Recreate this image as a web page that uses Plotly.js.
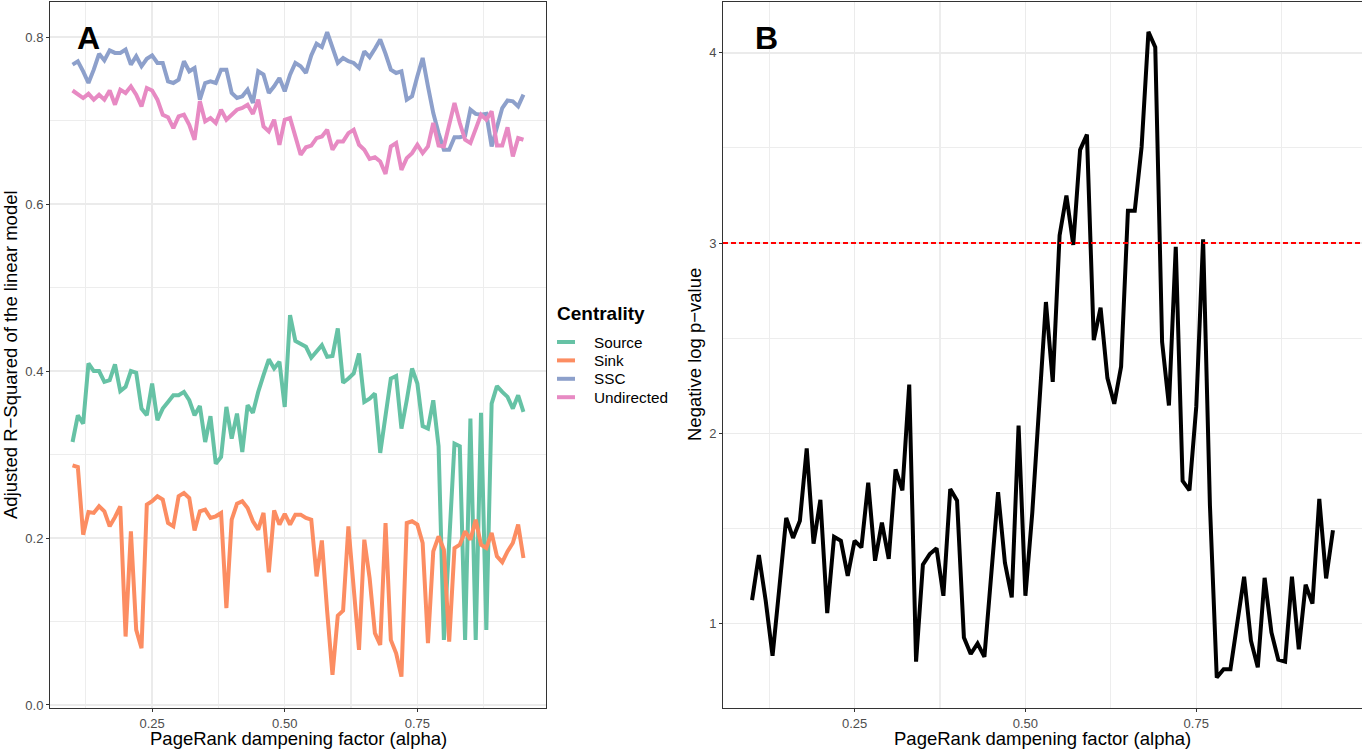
<!DOCTYPE html>
<html>
<head>
<meta charset="utf-8">
<script src="https://cdn.plot.ly/plotly-3.0.1.min.js"></script>
<style>
html,body{margin:0;padding:0;background:#fff;}
#chart{width:1362px;height:751px;}
</style>
</head>
<body>
<div id="chart"></div>
<script>
// PageRank dampening factor values (x)
const alpha = [0.10,0.11,0.12,0.13,0.14,0.15,0.16,0.17,0.18,0.19,
  0.20,0.21,0.22,0.23,0.24,0.25,0.26,0.27,0.28,0.29,
  0.30,0.31,0.32,0.33,0.34,0.35,0.36,0.37,0.38,0.39,
  0.40,0.41,0.42,0.43,0.44,0.45,0.46,0.47,0.48,0.49,
  0.50,0.51,0.52,0.53,0.54,0.55,0.56,0.57,0.58,0.59,
  0.60,0.61,0.62,0.63,0.64,0.65,0.66,0.67,0.68,0.69,
  0.70,0.71,0.72,0.73,0.74,0.75,0.76,0.77,0.78,0.79,
  0.80,0.81,0.82,0.83,0.84,0.85,0.86,0.87,0.88,0.89,
  0.90,0.91,0.92,0.93,0.94,0.95];

// Panel A: adjusted R-squared per centrality
const source = [0.315,0.347,0.337,0.409,0.400,0.400,0.387,0.389,0.408,0.376,
  0.381,0.400,0.398,0.355,0.347,0.385,0.341,0.355,0.363,0.371,
  0.371,0.375,0.365,0.347,0.358,0.315,0.346,0.289,0.297,0.357,
  0.319,0.349,0.303,0.359,0.350,0.375,0.395,0.414,0.403,0.411,
  0.357,0.467,0.436,0.433,0.429,0.416,0.423,0.431,0.417,0.418,
  0.451,0.386,0.391,0.397,0.421,0.363,0.367,0.373,0.302,0.347,
  0.391,0.394,0.331,0.365,0.403,0.385,0.334,0.331,0.365,0.310,
  0.078,0.195,0.313,0.310,0.078,0.343,0.078,0.350,0.090,0.361,
  0.382,0.375,0.369,0.355,0.371,0.351];

const sink = [0.287,0.285,0.204,0.231,0.230,0.238,0.232,0.214,0.225,0.238,
  0.082,0.208,0.090,0.068,0.240,0.244,0.250,0.246,0.218,0.214,
  0.250,0.254,0.248,0.209,0.232,0.234,0.224,0.226,0.230,0.116,
  0.222,0.241,0.244,0.236,0.220,0.210,0.230,0.159,0.233,0.216,
  0.229,0.216,0.228,0.228,0.224,0.222,0.154,0.197,0.112,0.036,
  0.107,0.113,0.214,0.140,0.066,0.198,0.152,0.086,0.072,0.218,
  0.078,0.062,0.034,0.218,0.220,0.216,0.194,0.074,0.184,0.202,
  0.186,0.076,0.188,0.192,0.208,0.198,0.222,0.192,0.188,0.206,
  0.178,0.171,0.184,0.194,0.216,0.176];

const ssc = [0.767,0.771,0.759,0.745,0.761,0.780,0.772,0.784,0.781,0.781,
  0.785,0.767,0.777,0.765,0.774,0.778,0.769,0.769,0.747,0.745,
  0.749,0.771,0.759,0.763,0.725,0.745,0.747,0.745,0.761,0.761,
  0.733,0.727,0.729,0.737,0.721,0.759,0.755,0.733,0.741,0.751,
  0.735,0.755,0.769,0.765,0.757,0.778,0.792,0.788,0.806,0.788,
  0.769,0.775,0.771,0.769,0.763,0.783,0.776,0.786,0.797,0.780,
  0.761,0.757,0.759,0.725,0.729,0.753,0.775,0.741,0.709,0.685,
  0.665,0.665,0.680,0.680,0.682,0.713,0.708,0.707,0.708,0.669,
  0.693,0.715,0.724,0.723,0.717,0.731];

const undirected = [0.736,0.732,0.727,0.732,0.725,0.731,0.725,0.736,0.719,0.737,
  0.733,0.741,0.731,0.717,0.739,0.736,0.725,0.707,0.704,0.691,
  0.705,0.707,0.695,0.677,0.723,0.699,0.703,0.697,0.713,0.701,
  0.707,0.713,0.715,0.719,0.708,0.725,0.693,0.687,0.701,0.671,
  0.701,0.703,0.681,0.659,0.668,0.670,0.679,0.681,0.689,0.665,
  0.675,0.675,0.685,0.689,0.671,0.665,0.654,0.656,0.651,0.636,
  0.669,0.673,0.641,0.655,0.661,0.671,0.661,0.669,0.697,0.670,
  0.669,0.693,0.721,0.697,0.677,0.673,0.689,0.707,0.701,0.711,
  0.670,0.670,0.692,0.657,0.679,0.677];

// Panel B: negative log p-value
const negLogP = [1.123,1.36,1.12,0.83,1.19,1.555,1.45,1.54,1.92,1.42,
  1.65,1.055,1.456,1.435,1.25,1.435,1.40,1.74,1.33,1.53,
  1.34,1.81,1.70,2.256,0.80,1.31,1.365,1.395,1.146,1.707,
  1.646,0.926,0.84,0.895,0.825,1.26,1.69,1.32,1.137,2.04,
  1.146,1.58,2.12,2.69,2.27,3.04,3.25,2.99,3.49,3.57,
  2.49,2.66,2.29,2.155,2.35,3.17,3.17,3.505,4.11,4.03,
  2.48,2.146,2.98,1.75,1.70,2.14,3.02,1.62,0.716,0.76,
  0.76,0.997,1.246,0.91,0.77,1.24,0.953,0.81,0.80,1.246,
  0.865,1.204,1.105,1.655,1.237,1.49];

const threshold = 3;

const seriesNames = ['Source','Sink','SSC','Undirected'];
const seriesColors = ['#66C2A5','#FC8D62','#8DA0CB','#E78AC3'];
const seriesValues = [source, sink, ssc, undirected];
const legendTitle = 'Centrality';

const FONT = 'Liberation Sans, Arial, Helvetica, sans-serif';
const W = 1362, H = 751;

const traces = seriesNames.map((name, k) => ({
  x: alpha, y: seriesValues[k], name: name, type: 'scatter', mode: 'lines',
  line: {color: seriesColors[k], width: 4},
  xaxis: 'x', yaxis: 'y', hoverinfo: 'skip', showlegend: false
}));
traces.push({
  x: alpha, y: negLogP, type: 'scatter', mode: 'lines', showlegend: false,
  line: {color: '#000000', width: 4}, xaxis: 'x2', yaxis: 'y2', hoverinfo: 'skip'
});

function axisBase(extra) {
  return Object.assign({
    showline: true, mirror: true, linecolor: '#333333', linewidth: 1,
    ticks: 'outside', ticklen: 3, tickwidth: 1, tickcolor: '#333333',
    showgrid: true, gridcolor: '#EBEBEB', gridwidth: 1.5,
    zeroline: false, automargin: false, fixedrange: true,
    tickfont: {family: FONT, size: 13, color: '#4D4D4D'}
  }, extra);
}
const minorGrid = {showgrid: true, gridcolor: '#EDEDED', gridwidth: 1.1, ticks: ''};

const yTop = 1 - 2 / H, yBot = 1 - 708 / H;

// manual legend (ggplot-style compact keys)
const legendX = 557, legendTitleY = 313, legendFirstY = 342, legendStep = 18.4;
const legendShapes = seriesNames.map((n, k) => ({
  type: 'line', xref: 'paper', yref: 'paper',
  x0: legendX / W, x1: (legendX + 18) / W,
  y0: 1 - (legendFirstY + k * legendStep) / H, y1: 1 - (legendFirstY + k * legendStep) / H,
  line: {color: seriesColors[k], width: 4}
}));
const legendAnn = seriesNames.map((n, k) => ({
  text: n, xref: 'paper', yref: 'paper', x: 592 / W, y: 1 - (legendFirstY + k * legendStep) / H,
  xanchor: 'left', yanchor: 'middle', showarrow: false,
  font: {family: FONT, size: 15.3, color: '#000'}
}));

const layout = {
  width: W, height: H,
  margin: {l: 0, r: 0, t: 0, b: 0},
  paper_bgcolor: '#ffffff', plot_bgcolor: '#ffffff',
  font: {family: FONT, color: '#000000'},
  showlegend: false,
  xaxis: axisBase({
    domain: [50 / W, 546 / W], range: [0.0575, 0.9925],
    tick0: 0, dtick: 0.25, tickformat: '.2f', anchor: 'y',
    minor: Object.assign({dtick: 0.125, tick0: 0}, minorGrid)
  }),
  yaxis: axisBase({
    domain: [yBot, yTop], range: [-0.0036, 0.842],
    tick0: 0, dtick: 0.2, tickformat: '.1f', anchor: 'x',
    minor: Object.assign({dtick: 0.1, tick0: 0}, minorGrid)
  }),
  xaxis2: axisBase({
    domain: [723 / W, 1], range: [0.0575, 0.9925],
    tick0: 0, dtick: 0.25, tickformat: '.2f', anchor: 'y2',
    minor: Object.assign({dtick: 0.125, tick0: 0}, minorGrid)
  }),
  yaxis2: axisBase({
    domain: [yBot, yTop], range: [0.556, 4.267],
    tick0: 0, dtick: 1, tickformat: 'd', anchor: 'x2',
    minor: Object.assign({dtick: 0.5, tick0: 0}, minorGrid)
  }),
  shapes: [{
    type: 'line', xref: 'x2 domain', x0: 0, x1: 1, yref: 'y2', y0: threshold, y1: threshold,
    line: {color: '#FF0000', width: 2, dash: '5px,3px'}
  }].concat(legendShapes),
  annotations: [
    {text: 'PageRank dampening factor (alpha)', xref: 'paper', yref: 'paper',
     x: (50 + 546) / 2 / W, y: 1 - 738 / H, xanchor: 'center', yanchor: 'middle',
     showarrow: false, font: {family: FONT, size: 18.5, color: '#000'}},
    {text: 'PageRank dampening factor (alpha)', xref: 'paper', yref: 'paper',
     x: (723 + 1362) / 2 / W, y: 1 - 738 / H, xanchor: 'center', yanchor: 'middle',
     showarrow: false, font: {family: FONT, size: 18.5, color: '#000'}},
    {text: 'Adjusted R\u2212Squared of the linear model', xref: 'paper', yref: 'paper',
     x: 10 / W, y: 1 - 355 / H, xanchor: 'center', yanchor: 'middle', textangle: -90,
     showarrow: false, font: {family: FONT, size: 18.5, color: '#000'}},
    {text: 'Negative log p\u2212value', xref: 'paper', yref: 'paper',
     x: 694 / W, y: 1 - 355 / H, xanchor: 'center', yanchor: 'middle', textangle: -90,
     showarrow: false, font: {family: FONT, size: 18.5, color: '#000'}},
    {text: '<b>A</b>', xref: 'paper', yref: 'paper', x: 88 / W, y: 1 - 38 / H,
     xanchor: 'center', yanchor: 'middle', showarrow: false,
     font: {family: FONT, size: 32, color: '#000'}},
    {text: '<b>B</b>', xref: 'paper', yref: 'paper', x: 766 / W, y: 1 - 38 / H,
     xanchor: 'center', yanchor: 'middle', showarrow: false,
     font: {family: FONT, size: 32, color: '#000'}},
    {text: '<b>' + legendTitle + '</b>', xref: 'paper', yref: 'paper', x: 555 / W, y: 1 - legendTitleY / H,
     xanchor: 'left', yanchor: 'middle', showarrow: false,
     font: {family: FONT, size: 19, color: '#000'}}
  ].concat(legendAnn)
};

Plotly.newPlot('chart', traces, layout, {staticPlot: true, displayModeBar: false});
</script>
</body>
</html>
